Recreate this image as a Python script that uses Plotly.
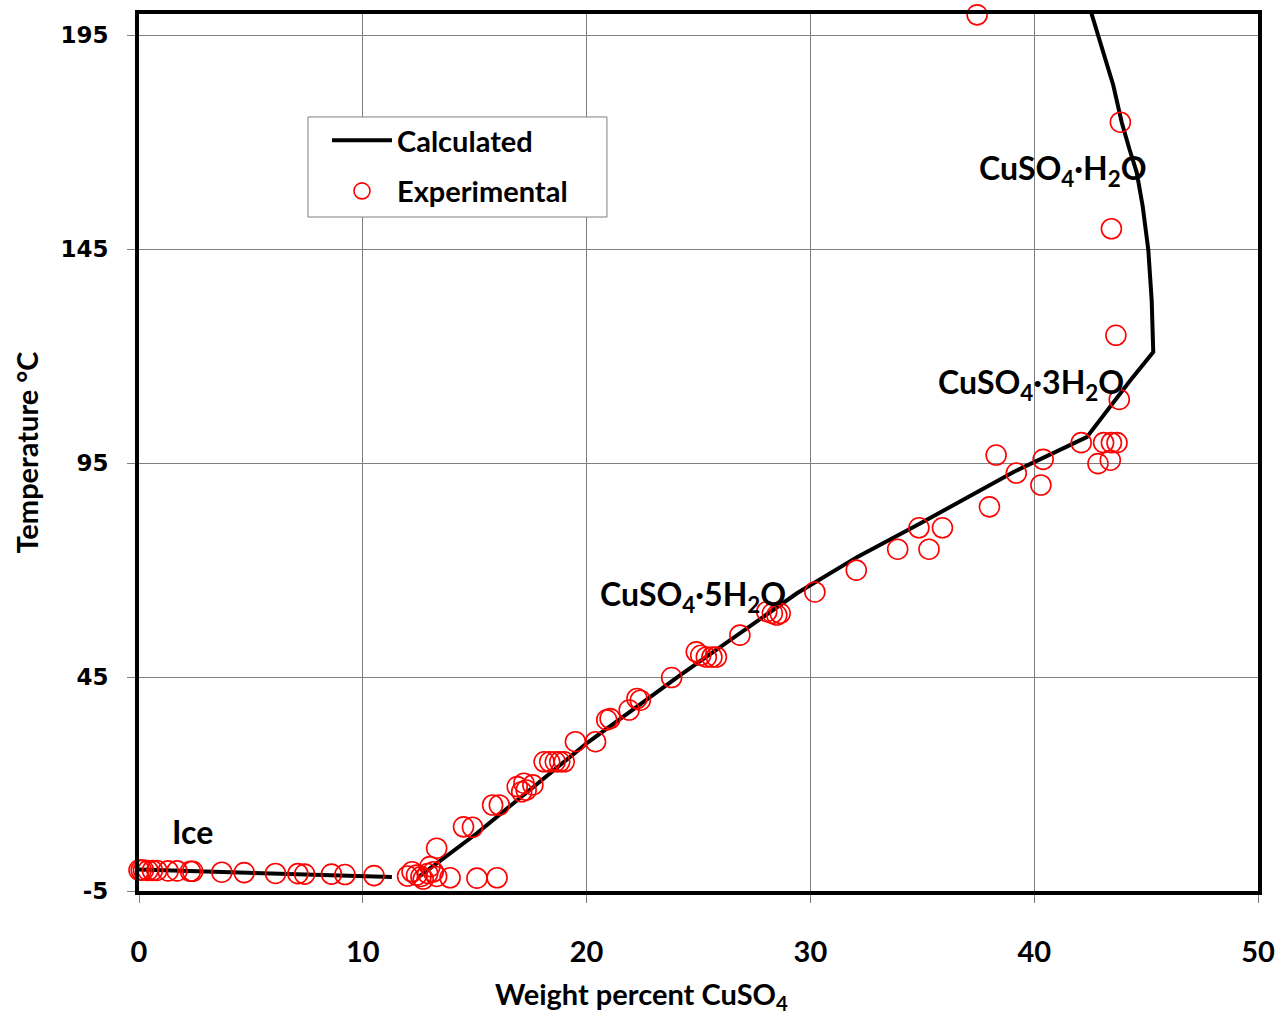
import plotly.graph_objects as go

# Calculated solubility curve (ice branch, then hydrate branches)
ice_x = [0.0, 5.0, 11.3]
ice_y = [0.0, -0.75, -1.7]
hyd_x = [12.5, 15.1, 17.5, 20.0, 24.2, 29.4, 32.1, 34.9, 39.1, 42.35,
         44.3, 45.32, 45.25, 45.1, 44.85, 44.58, 44.25, 43.91, 43.53, 43.05, 42.57, 42.45]
hyd_y = [-1.7, 8.5, 18.8, 29.5, 45.5, 64.6, 73.1, 80.9, 93.0, 101.1,
         114.4, 121.0, 133.0, 144.8, 155.0, 163.0, 168.5, 174.7, 183.4, 191.8, 199.7, 202.0]

# Experimental measurements
exp_x = [0.0, 0.1, 0.2, 0.4, 0.6, 0.8, 1.3, 1.7, 2.3, 2.4, 3.7, 4.7, 6.1, 7.1, 7.4, 8.6, 9.2, 10.5,
         12.0, 12.2, 12.4, 12.6, 12.7, 12.9, 13.0, 13.15, 13.3, 13.9, 15.1, 16.0,
         13.3, 14.5, 14.9, 15.8, 16.1, 16.9, 17.1, 17.2, 17.3, 17.6,
         18.1, 18.35, 18.6, 18.8, 19.0, 19.5, 20.4, 20.9, 21.05, 21.9, 22.25, 22.4, 23.8,
         24.9, 25.1, 25.35, 25.6, 25.8, 26.85, 28.05, 28.3, 28.5, 28.65, 30.2,
         32.05, 33.9, 34.85, 35.3, 35.9, 38.0, 38.3, 39.2, 40.3, 40.4, 42.1, 42.85, 43.4,
         43.1, 43.45, 43.7, 43.8, 43.65, 43.45, 43.85, 37.45]
exp_y = [-0.1, -0.1, -0.1, -0.2, -0.2, -0.2, -0.3, -0.3, -0.4, -0.4, -0.6, -0.7, -0.9, -0.95, -1.05, -1.05, -1.15, -1.4,
         -1.5, -0.5, -1.3, -1.6, -2.2, -0.9, 0.7, -0.5, -1.6, -1.9, -2.0, -1.9,
         5.0, 10.0, 9.9, 15.1, 15.1, 19.4, 18.2, 20.2, 18.6, 19.8,
         25.2, 25.2, 25.2, 25.2, 25.2, 29.9, 29.9, 35.0, 35.3, 37.3, 40.0, 39.6, 44.9,
         50.9, 50.1, 49.7, 49.7, 49.7, 54.8, 60.3, 59.9, 59.5, 59.9, 64.9,
         70.0, 74.9, 79.9, 74.9, 79.9, 84.8, 96.9, 92.7, 89.9, 95.9, 99.8, 94.9, 95.7,
         99.8, 99.8, 99.8, 109.9, 124.9, 149.8, 174.7, 199.8]

# Phase-region labels
label_text = ["Ice", "CuSO<sub>4</sub>·5H<sub>2</sub>O", "CuSO<sub>4</sub>·3H<sub>2</sub>O", "CuSO<sub>4</sub>·H<sub>2</sub>O"]
label_x = [1.4, 20.5, 35.6, 37.45]
label_y = [9.0, 64.0, 113.5, 163.5]

x_ticks = [0, 10, 20, 30, 40, 50]
y_ticks = [-5, 45, 95, 145, 195]

TEXT_FONT = "Lato, 'Open Sans', sans-serif"

fig = go.Figure()
fig.add_trace(go.Scatter(
    x=ice_x + [None] + hyd_x, y=ice_y + [None] + hyd_y,
    mode="lines", name="Calculated", legendgroup="calc",
    line=dict(color="black", width=4),
))
fig.add_trace(go.Scatter(
    x=exp_x, y=exp_y, mode="markers", name="Experimental", legendgroup="exp",
    marker=dict(symbol="circle-open", size=20, color="#ff0000", line=dict(width=1.6, color="#ff0000")),
    cliponaxis=False,
))

for t, lx, ly in zip(label_text, label_x, label_y):
    fig.add_annotation(x=lx, y=ly, text=t, showarrow=False, xanchor="left", yanchor="middle",
                       font=dict(family=TEXT_FONT, size=32, color="black", weight="bold"))

# x-axis title, set slightly left of the plot centre
fig.add_annotation(x=0.4495, y=-0.119, xref="paper", yref="paper",
                   text="Weight percent CuSO<sub>4</sub>", showarrow=False,
                   xanchor="center", yanchor="middle",
                   font=dict(family=TEXT_FONT, size=29, color="black", weight="bold"))

# framed white panel behind the legend entries
fig.add_shape(type="rect", xref="paper", yref="paper",
              x0=0.151, x1=0.4182, y0=0.7685, y1=0.8826,
              fillcolor="white", line=dict(color="#7f7f7f", width=1), layer="above")

fig.update_xaxes(
    range=[0, 50], tickvals=x_ticks, ticktext=[str(v) for v in x_ticks],
    showgrid=True, gridcolor="#7f7f7f", gridwidth=1,
    showline=True, linecolor="black", linewidth=4, mirror=True,
    ticks="outside", ticklen=8, tickcolor="#7f7f7f", tickwidth=1,
    ticklabelstandoff=24,
    tickfont=dict(family=TEXT_FONT, size=29, color="black", weight="bold"),
    zeroline=False, automargin=False,
)
fig.update_yaxes(
    range=[-5, 200], tickvals=y_ticks, ticktext=[str(v) for v in y_ticks],
    showgrid=True, gridcolor="#7f7f7f", gridwidth=1,
    showline=True, linecolor="black", linewidth=4, mirror=True,
    ticks="outside", ticklen=8, tickcolor="#7f7f7f", tickwidth=1,
    ticklabelstandoff=14,
    tickfont=dict(family="'DejaVu Sans', sans-serif", size=23, color="black", weight="bold"),
    title=dict(text="Temperature °C", standoff=14,
               font=dict(family=TEXT_FONT, size=29, color="black", weight="bold")),
    zeroline=False, automargin=False,
)

fig.update_layout(
    width=1286, height=1017,
    margin=dict(l=139, r=28, t=14, b=126),
    plot_bgcolor="white", paper_bgcolor="white",
    showlegend=True,
    legend=dict(x=0.168, y=0.885, xanchor="left", yanchor="top",
                bgcolor="rgba(0,0,0,0)", borderwidth=0,
                font=dict(family=TEXT_FONT, size=29, color="black", weight="bold"),
                itemwidth=60, tracegroupgap=10),
)

fig.write_html("out.html")
